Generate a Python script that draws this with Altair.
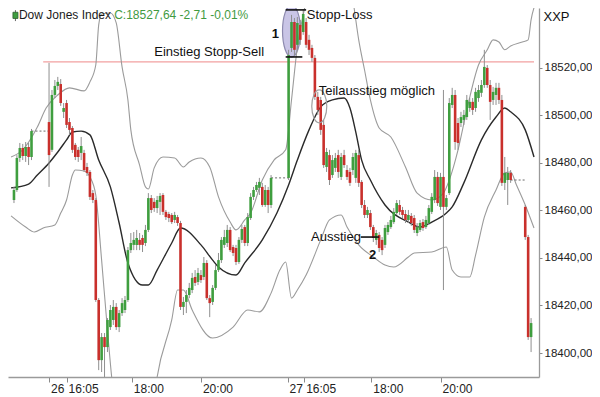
import altair as alt
import pandas as pd

# ---------------- candle data (5-minute bars, bar index) ----------------
bars = list(range(3, 10)) + list(range(15, 92)) + list(range(97, 174)) + [178, 179, 180]

opens = [
    18464.4, 18468.6, 18482.1, 18486.3, 18482.9, 18486.7, 18482.5,
    18497.2, 18485.5, 18508.6, 18512.4, 18513.2, 18501.5, 18505.2, 18497.2, 18494.7, 18487.6,
    18485.5, 18484.2, 18484.2, 18478.3, 18476.2, 18467.3, 18464.4, 18422.3, 18397.0, 18406.7,
    18402.5, 18410.9, 18413.9, 18419.4, 18410.9, 18416.8, 18418.1, 18422.3, 18443.3, 18445.5,
    18445.5, 18447.6, 18448.4, 18446.3, 18451.8, 18465.2, 18463.6, 18461.0, 18463.6, 18466.5,
    18459.4, 18458.5, 18458.1, 18456.0, 18457.2, 18454.7, 18419.4, 18421.5, 18424.4, 18426.5,
    18432.0, 18429.9, 18432.8, 18432.0, 18437.9, 18423.1, 18421.5, 18427.4, 18434.9, 18439.1,
    18445.5, 18446.3, 18451.8, 18444.6, 18444.2, 18438.3, 18447.6, 18453.0, 18446.3, 18456.8,
    18465.7, 18468.6, 18469.5, 18469.9, 18462.3, 18468.6, 18462.3,
    18473.7, 18528.4, 18539.3, 18529.7, 18538.1, 18535.1, 18539.3, 18531.8, 18528.4, 18524.2,
    18507.8, 18506.5, 18496.0, 18478.3, 18483.3, 18474.9, 18477.9, 18483.3, 18474.1, 18483.3,
    18477.0, 18476.2, 18477.0, 18473.7, 18483.3, 18472.0, 18462.3, 18458.1, 18458.9, 18453.0,
    18447.6, 18449.7, 18447.6, 18445.5, 18450.9, 18453.0, 18455.1, 18458.9, 18462.3, 18460.2,
    18458.5, 18456.0, 18457.7, 18456.8, 18450.5, 18451.8, 18455.1, 18453.0, 18454.7, 18459.4,
    18464.4, 18474.1, 18461.5, 18474.1, 18461.5, 18467.3, 18504.4, 18508.6, 18496.8, 18496.8,
    18498.1, 18499.3, 18503.1, 18505.7, 18503.1, 18507.3, 18509.5, 18512.8, 18520.0, 18512.8,
    18506.5, 18508.6, 18511.6, 18506.5, 18471.6, 18472.8, 18475.8,
    18461.5, 18448.8, 18406.7,
]
highs = [
    18469.9, 18483.3, 18488.4, 18488.0, 18488.8, 18488.4, 18494.3,
    18522.1, 18510.7, 18514.9, 18516.2, 18515.3, 18505.2, 18506.5, 18498.9, 18495.5, 18488.4,
    18486.7, 18490.9, 18485.5, 18480.0, 18477.0, 18468.6, 18465.2, 18423.1, 18408.4, 18408.4,
    18414.7, 18420.2, 18422.3, 18421.0, 18418.1, 18423.1, 18424.0, 18444.6, 18450.5, 18450.9,
    18451.8, 18450.5, 18449.7, 18453.9, 18467.3, 18466.5, 18465.2, 18466.1, 18467.3, 18467.3,
    18460.2, 18459.4, 18458.9, 18459.4, 18458.1, 18455.6, 18423.6, 18426.5, 18429.5, 18433.7,
    18434.9, 18435.8, 18434.9, 18440.4, 18439.1, 18424.4, 18428.6, 18437.0, 18442.1, 18448.8,
    18451.8, 18453.9, 18453.0, 18445.5, 18445.5, 18448.8, 18453.9, 18453.9, 18458.9, 18467.3,
    18469.9, 18472.0, 18473.7, 18471.6, 18470.7, 18469.9, 18474.9,
    18527.6, 18542.3, 18541.0, 18541.4, 18540.2, 18544.4, 18541.0, 18533.9, 18529.7, 18525.4,
    18509.9, 18507.8, 18498.1, 18486.3, 18485.5, 18483.3, 18484.2, 18485.5, 18484.2, 18485.5,
    18479.1, 18477.9, 18484.2, 18485.5, 18485.5, 18472.8, 18464.4, 18461.5, 18460.2, 18453.9,
    18451.8, 18450.9, 18448.8, 18453.9, 18455.1, 18457.7, 18461.0, 18464.4, 18464.4, 18461.5,
    18460.2, 18460.2, 18458.9, 18458.1, 18454.7, 18456.0, 18456.4, 18457.7, 18462.3, 18467.3,
    18477.0, 18476.2, 18475.8, 18510.7, 18466.5, 18507.3, 18511.6, 18510.7, 18498.9, 18501.5,
    18502.3, 18508.6, 18507.3, 18507.3, 18511.6, 18512.8, 18514.9, 18527.6, 18521.2, 18514.9,
    18512.0, 18513.7, 18513.7, 18508.6, 18482.5, 18478.3, 18477.0,
    18462.3, 18449.7, 18414.7,
]
lows = [
    18463.1, 18467.8, 18480.4, 18481.2, 18480.4, 18479.1, 18481.2,
    18469.9, 18484.6, 18507.3, 18510.7, 18504.0, 18498.9, 18494.7, 18491.8, 18484.2, 18481.2,
    18480.4, 18481.2, 18476.2, 18474.5, 18464.4, 18463.1, 18421.5, 18392.8, 18392.0, 18389.9,
    18400.4, 18409.7, 18411.8, 18409.7, 18408.8, 18415.6, 18416.8, 18421.5, 18442.1, 18443.3,
    18443.3, 18443.3, 18442.5, 18445.0, 18450.9, 18458.9, 18459.4, 18458.9, 18458.1, 18458.1,
    18456.0, 18455.1, 18454.3, 18454.7, 18453.5, 18418.1, 18416.0, 18416.8, 18423.1, 18425.2,
    18428.2, 18428.6, 18429.5, 18430.7, 18422.3, 18415.1, 18420.2, 18426.5, 18434.1, 18437.9,
    18444.2, 18444.6, 18442.5, 18440.8, 18437.0, 18437.5, 18446.3, 18445.0, 18445.0, 18456.0,
    18464.4, 18467.8, 18466.5, 18461.5, 18461.5, 18458.9, 18461.0,
    18472.8, 18526.7, 18525.4, 18527.6, 18529.7, 18533.9, 18528.4, 18525.4, 18522.5, 18506.5,
    18500.2, 18491.8, 18477.9, 18476.2, 18470.7, 18473.7, 18476.2, 18473.7, 18472.8, 18477.9,
    18472.8, 18470.3, 18474.9, 18471.6, 18469.9, 18461.0, 18456.8, 18456.8, 18451.8, 18446.7,
    18445.5, 18442.5, 18441.2, 18444.2, 18449.7, 18452.2, 18454.3, 18458.1, 18458.1, 18456.8,
    18454.7, 18454.7, 18453.5, 18450.5, 18449.2, 18450.9, 18451.4, 18452.2, 18453.9, 18458.5,
    18463.1, 18461.9, 18460.2, 18426.5, 18460.2, 18466.5, 18503.1, 18485.5, 18485.5, 18495.1,
    18496.0, 18498.1, 18501.5, 18500.2, 18501.5, 18505.7, 18507.8, 18511.6, 18511.6, 18498.1,
    18504.4, 18504.4, 18504.8, 18470.3, 18468.6, 18462.3, 18471.6,
    18447.6, 18405.5, 18400.4,
]
closes = [
    18468.6, 18482.1, 18486.3, 18482.9, 18486.7, 18482.5, 18493.4,
    18483.3, 18508.6, 18512.4, 18514.1, 18505.2, 18503.1, 18496.0, 18493.9, 18485.5, 18482.5,
    18482.5, 18487.1, 18477.0, 18475.8, 18465.7, 18464.4, 18422.3, 18397.0, 18406.7, 18402.5,
    18413.9, 18418.1, 18419.4, 18410.9, 18416.8, 18421.0, 18422.3, 18443.3, 18446.3, 18447.6,
    18448.4, 18445.5, 18445.5, 18451.8, 18465.2, 18460.2, 18461.0, 18464.4, 18466.1, 18459.4,
    18457.2, 18456.8, 18455.1, 18458.1, 18454.7, 18419.4, 18421.5, 18424.4, 18427.4, 18431.6,
    18429.5, 18433.7, 18430.7, 18437.9, 18423.1, 18421.0, 18427.4, 18434.9, 18439.1, 18447.6,
    18448.8, 18451.8, 18443.3, 18442.1, 18438.3, 18447.6, 18452.2, 18446.3, 18457.2, 18465.7,
    18468.6, 18470.7, 18472.0, 18462.3, 18468.6, 18462.3, 18473.7,
    18525.4, 18539.3, 18527.6, 18538.9, 18531.8, 18542.7, 18529.7, 18527.6, 18524.2, 18507.8,
    18502.3, 18493.9, 18479.1, 18484.6, 18472.8, 18481.2, 18482.1, 18476.2, 18482.5, 18479.1,
    18474.1, 18471.6, 18482.5, 18484.2, 18471.6, 18462.3, 18458.1, 18460.2, 18453.0, 18448.4,
    18450.5, 18444.2, 18443.3, 18452.6, 18453.9, 18456.0, 18459.4, 18463.1, 18459.4, 18458.1,
    18456.0, 18458.1, 18454.7, 18451.8, 18453.0, 18454.7, 18452.6, 18456.0, 18461.0, 18465.7,
    18474.1, 18463.1, 18474.1, 18461.5, 18465.2, 18505.2, 18508.6, 18488.8, 18488.4, 18499.3,
    18500.2, 18506.5, 18505.7, 18502.3, 18509.9, 18510.7, 18512.8, 18520.4, 18512.8, 18505.7,
    18509.9, 18511.6, 18506.5, 18471.6, 18475.8, 18475.8, 18472.8,
    18448.8, 18406.7, 18412.6,
]
assert len(bars) == len(opens) == len(highs) == len(lows) == len(closes), (
    len(bars), len(opens), len(highs), len(lows), len(closes))

# ---------------- Bollinger bands ----------------
mid_bar = [2, 8, 11, 15, 18, 21, 23, 26, 29, 32, 36, 39, 42, 47, 49, 52, 57, 60, 67, 71,
           73, 79, 82, 88, 93, 97, 100, 104, 108, 112, 116, 118, 120, 122, 125, 130, 138, 142, 146, 151,
           153, 157, 163, 168, 171, 173, 178, 181]
mid_val = [18469.5, 18471.1, 18474.9, 18480.0, 18484.6, 18489.7, 18493.0, 18493.4, 18491.8, 18481.2,
           18469.9, 18454.7, 18437.9, 18428.6, 18428.6, 18434.9, 18446.3, 18452.6, 18445.5, 18439.1,
           18436.2, 18432.8, 18437.9, 18447.6, 18458.9, 18470.7, 18481.2, 18493.9, 18503.6, 18506.5,
           18507.3, 18503.1, 18493.0, 18481.2, 18472.8, 18462.3, 18455.1, 18453.0, 18455.1, 18458.9,
           18461.5, 18471.6, 18489.7, 18499.3, 18503.1, 18501.5, 18493.9, 18482.5]
upper_bar = [2, 6, 11, 14, 18, 22, 27, 29, 31, 32, 33, 36, 38, 40, 42, 43, 46, 48, 49, 51,
             54, 58, 61, 63, 67, 70, 73, 77, 79, 82, 84, 88, 92, 96, 98, 100, 102, 105, 110, 117,
             119, 121, 123, 125, 128, 132, 137, 141, 146, 150, 152, 155, 158, 162, 165, 167, 169, 171, 173, 177,
             179, 180, 182]
upper_val = [18482.5, 18485.5, 18495.1, 18503.1, 18508.6, 18511.6, 18510.3, 18514.1, 18521.2, 18538.1,
             18542.7, 18543.1, 18538.9, 18520.4, 18506.5, 18493.9, 18479.1, 18469.9, 18469.0, 18477.9,
             18482.5, 18482.1, 18478.3, 18480.4, 18482.1, 18478.3, 18465.7, 18455.1, 18451.8, 18456.0,
             18458.9, 18472.8, 18481.2, 18485.5, 18506.5, 18528.8, 18542.3, 18557.0, 18565.4, 18561.2,
             18548.6, 18531.8, 18519.1, 18506.5, 18494.7, 18490.9, 18478.3, 18467.3, 18464.4, 18467.3,
             18472.8, 18485.5, 18502.3, 18521.2, 18527.6, 18531.8, 18530.9, 18527.6, 18529.2, 18530.9,
             18531.8, 18540.2, 18548.6]
lower_bar = [2, 7, 10, 13, 17, 19, 21, 23, 24, 27, 29, 31, 33, 35, 37, 43, 50, 52, 57, 59,
             61, 64, 71, 78, 83, 87, 91, 94, 96, 98, 100, 103, 108, 111, 115, 117, 121, 126, 130, 133,
             138, 140, 146, 151, 153, 156, 159, 161, 164, 168, 171, 173, 175, 178, 181]
lower_val = [18457.7, 18453.0, 18450.9, 18452.6, 18453.9, 18458.9, 18464.4, 18474.9, 18477.0, 18476.6,
             18474.1, 18466.5, 18439.1, 18409.7, 18384.4, 18363.4, 18371.8, 18389.9, 18413.9, 18426.5,
             18426.5, 18418.1, 18406.3, 18410.9, 18418.1, 18417.3, 18425.2, 18434.9, 18438.3, 18423.1,
             18426.5, 18432.8, 18447.6, 18456.0, 18458.1, 18453.0, 18445.5, 18440.4, 18437.0, 18436.2,
             18440.4, 18442.1, 18442.5, 18444.6, 18434.9, 18432.0, 18432.0, 18441.2, 18457.2, 18468.6,
             18475.8, 18476.2, 18470.7, 18462.3, 18452.6]

# ---------------- gaps (previous close carried forward) ----------------
gap_start = [9, 91, 173]
gap_end = [15, 97, 178]

# ---------------- annotations ----------------
entry_level = 18522.5          # Einstieg Stopp-Sell (red line)
entry_from_bar = 13
hline_label = ["stop", "entry", "exit"]
hline_from = [96, 96, 121.7]
hline_to = [103, 101.7, 128]
hline_price = [18544.4, 18524.6, 18448.8]

note_text = ["Stopp-Loss", "Einstieg Stopp-Sell", "Teilausstieg möglich", "Ausstieg"]
note_bar = [103.2, 51, 107.3, 104.7]
note_price = [18542.2, 18526.7, 18510.3, 18448.8]

num_text = ["1", "2"]
num_bar = [92.5, 125.8]
num_price = [18534.3, 18441.2]

title_text = ["Dow Jones Index", "C:18527,64 -2,71 -0,01%"]
title_bar = [4.7, 37.3]
title_price = [18542.1, 18542.1]
title_color = ["#1a1a1a", "#3f9a3f"]

x_tick_bars = [15, 21, 43.333, 67, 96.667, 102.333, 125.333, 149]
x_tick_labels = ["26", "16:05", "18:00", "20:00", "27", "16:05", "18:00", "20:00"]
y_ticks = [18400, 18420, 18440, 18460, 18480, 18500, 18520]

GREEN = "#3f9e3f"
RED = "#c9302c"
FONT = "Liberation Sans"

# ---------------- frames ----------------
df = pd.DataFrame({"bar": bars, "open": opens, "high": highs, "low": lows, "close": closes})
df["dir"] = ["up" if c >= o else "down" for o, c in zip(opens, closes)]

mid_df = pd.DataFrame({"bar": mid_bar, "val": mid_val})
up_df = pd.DataFrame({"bar": upper_bar, "val": upper_val})
lo_df = pd.DataFrame({"bar": lower_bar, "val": lower_val})

close_of = dict(zip(bars, closes))
gap_df = pd.DataFrame({"bar": gap_start, "bar2": gap_end, "val": [close_of[b] for b in gap_start]})
red_df = pd.DataFrame({"bar": [entry_from_bar], "bar2": [181], "val": [entry_level]})
hl_df = pd.DataFrame({"name": hline_label, "bar": hline_from, "bar2": hline_to, "val": hline_price})
note_df = pd.DataFrame({"label": note_text, "bar": note_bar, "val": note_price})
num_df = pd.DataFrame({"label": num_text, "bar": num_bar, "val": num_price})
title_df = pd.DataFrame({"label": title_text, "bar": title_bar, "val": title_price, "col": title_color})
big_ell = pd.DataFrame({"bar": [98], "val": [18535.5]})
small_ell = pd.DataFrame({"bar": [107.5], "val": [18503.8]})
icon_df = pd.DataFrame({"bar": [3.5], "o": [18540.8], "c": [18543.4], "h": [18544.3], "l": [18539.7]})

# ---------------- scales / axes ----------------
xs = alt.Scale(domain=[8 / 3, 181], nice=False, zero=False)
ys = alt.Scale(domain=[18389.9, 18545.2], nice=False, zero=False)

lab_arr = "[" + ",".join("'%s'" % s for s in x_tick_labels) + "]"
val_arr = "[" + ",".join(str(v) for v in x_tick_bars) + "]"
x_axis = alt.Axis(values=x_tick_bars, labelExpr=f"{lab_arr}[indexof({val_arr}, datum.value)]",
                  labelAlign="left", labelOffset=1.5, labelBaseline="top", labelPadding=1,
                  tickSize=5, tickColor="#8a8a8a", domainColor="#9a9a9a", domainWidth=1.3,
                  labelFontSize=12, labelColor="#222222", labelFont=FONT, grid=False,
                  labelFlush=False, labelOverlap=False, title=None)
y_axis = alt.Axis(orient="right", values=y_ticks,
                  labelExpr="replace(format(datum.value, '.2f'), '.', ',')",
                  tickSize=3, tickColor="#8a8a8a", labelPadding=2, domainColor="#9a9a9a",
                  domainWidth=1.3, labelFontSize=11.5, labelColor="#222222", labelFont=FONT,
                  grid=False, labelFlush=False, labelOverlap=False,
                  title="XXP", titleAngle=0, titleAlign="left", titleBaseline="middle",
                  titleX=4, titleY=8, titleFontSize=13, titleFontWeight="normal",
                  titleFont=FONT, titleColor="#111111")


def X(f="bar"):
    return alt.X(f"{f}:Q", scale=xs, axis=x_axis)


def Y(f="val"):
    return alt.Y(f"{f}:Q", scale=ys, axis=y_axis)


ellipse_big = "M-0.346,0A0.346,1,0,1,0,0.346,0A0.346,1,0,1,0,-0.346,0Z"
ellipse_small = "M-0.455,0A0.455,1,0,1,0,0.455,0A0.455,1,0,1,0,-0.455,0Z"

layers = [
    alt.Chart(big_ell).mark_point(shape=ellipse_big, size=2704, filled=True, fill="#c9c5e6",
                                  fillOpacity=1, stroke="#8d8aae", strokeWidth=1.2, opacity=1)
    .encode(x=X(), y=Y()),
    alt.Chart(red_df).mark_rule(color="#f2a0a0", strokeWidth=1.3, clip=True)
    .encode(x=X(), x2=alt.X2("bar2"), y=Y()),
    alt.Chart(lo_df).mark_line(color="#9b9b9b", strokeWidth=1.1, clip=True, interpolate="monotone")
    .encode(x=X(), y=Y()),
    alt.Chart(up_df).mark_line(color="#9b9b9b", strokeWidth=1.1, clip=True, interpolate="monotone")
    .encode(x=X(), y=Y()),
    alt.Chart(mid_df).mark_line(color="#2a2a2a", strokeWidth=1.4, clip=True, interpolate="monotone")
    .encode(x=X(), y=Y()),
    alt.Chart(gap_df).mark_rule(color="#6a6a6a", strokeWidth=1, strokeDash=[2, 2], clip=True)
    .encode(x=X(), x2=alt.X2("bar2"), y=Y()),
    alt.Chart(df).mark_rule(color="#8f8f8f", strokeWidth=1, clip=True)
    .encode(x=X(), y=Y("low"), y2=alt.Y2("high")),
    alt.Chart(df).mark_bar(size=2.6, clip=True)
    .encode(x=X(), y=Y("open"), y2=alt.Y2("close"),
            color=alt.Color("dir:N", scale=alt.Scale(domain=["up", "down"], range=[GREEN, RED]),
                            legend=None)),
    alt.Chart(hl_df).mark_rule(color="#111111", strokeWidth=1.6)
    .encode(x=X(), x2=alt.X2("bar2"), y=Y()),
    alt.Chart(small_ell).mark_point(shape=ellipse_small, size=1089, filled=False,
                                    stroke="#a0a0a0", strokeWidth=1.2, opacity=1)
    .encode(x=X(), y=Y()),
    alt.Chart(icon_df).mark_rule(color="#666666", strokeWidth=1)
    .encode(x=X(), y=Y("l"), y2=alt.Y2("h")),
    alt.Chart(icon_df).mark_bar(size=5, color=GREEN, stroke="#2e5e2e", strokeWidth=0.8)
    .encode(x=X(), y=Y("o"), y2=alt.Y2("c")),
    alt.Chart(title_df).mark_text(align="left", baseline="middle", fontSize=12, font=FONT)
    .encode(x=X(), y=Y(), text="label:N", color=alt.Color("col:N", scale=None)),
    alt.Chart(note_df).mark_text(align="left", baseline="middle", fontSize=13, font=FONT,
                                 color="#111111")
    .encode(x=X(), y=Y(), text="label:N"),
    alt.Chart(num_df).mark_text(align="center", baseline="middle", fontSize=13, font=FONT,
                                color="#111111", fontWeight="bold")
    .encode(x=X(), y=Y(), text="label:N"),
]

chart = (
    alt.layer(*layers)
    .properties(width=531, height=369, background="white",
                autosize=alt.AutoSizeParams(type="none"),
                padding={"left": 0, "top": 0, "right": 53, "bottom": 22})
    .configure_view(strokeWidth=0)
)

chart.save("out.html", embed_options={"renderer": "svg", "actions": False})
